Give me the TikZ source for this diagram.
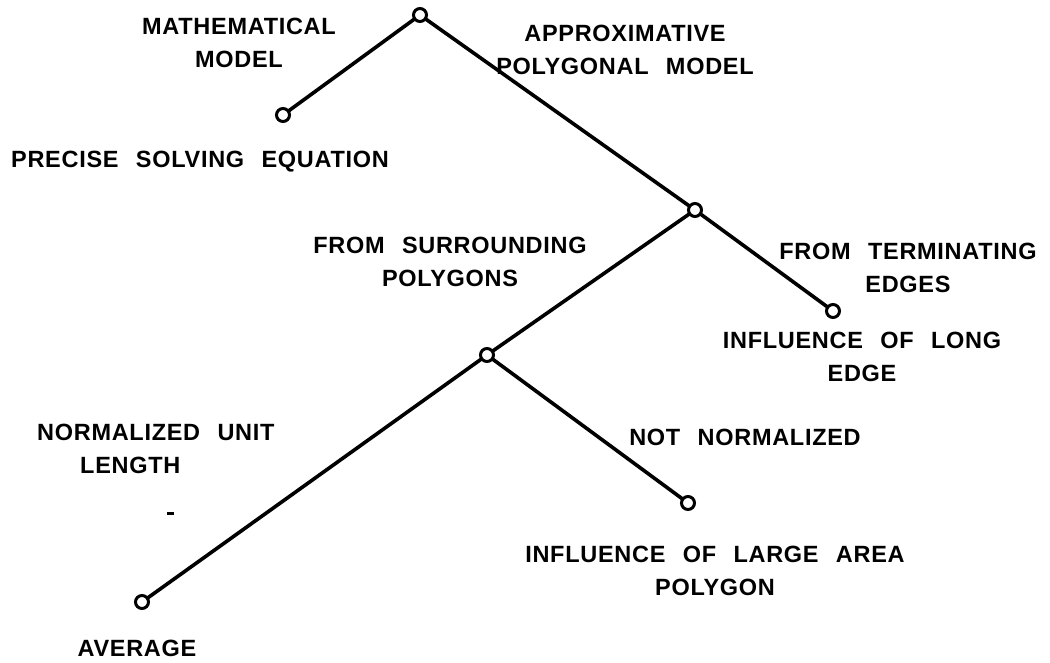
\documentclass[tikz,border=0pt]{standalone}
\usepackage{fontspec}
\setmainfont{Liberation Sans}[WordSpace=2.4, LetterSpace=3]
\begin{document}
\begin{tikzpicture}[x=1pt,y=-1pt,
  pt/.style={circle,draw,line width=3pt,fill=white,minimum size=13pt,inner sep=0pt},
  edge/.style={line width=3.6pt},
  lbl/.style={font=\fontsize{23.5}{33}\selectfont\bfseries,inner sep=0pt,align=center}]
\useasboundingbox (0,0) rectangle (1050,663);
\coordinate (r) at (420,15);
\coordinate (a) at (283,115);
\coordinate (b) at (695,210);
\coordinate (c) at (833,311);
\coordinate (m) at (487,355);
\coordinate (d) at (688,503);
\coordinate (e) at (142,602);
\draw[edge] (a) -- (r) -- (b) -- (c);
\draw[edge] (b) -- (m) -- (d);
\draw[edge] (m) -- (e);
\foreach \p in {r,a,b,c,m,d,e} \node[pt] (n\p) at (\p) {};
\fill (167,512) rectangle (174,515);
\node[lbl] (l1) at (239,43) {MATHEMATICAL\\MODEL};
\node[lbl] (l2) at (625,50) {APPROXIMATIVE\\POLYGONAL MODEL};
\node[lbl] (l3) at (200,162) {PRECISE SOLVING EQUATION};
\node[lbl] (l4) at (450,262) {FROM SURROUNDING\\POLYGONS};
\node[lbl] (l5) at (908,268) {FROM TERMINATING\\EDGES};
\node[lbl] (l6) at (862,357) {INFLUENCE OF LONG\\EDGE};
\node[lbl,align=left,anchor=west] (l7) at (37,449) {NORMALIZED UNIT\\\hspace*{43pt}LENGTH};
\node[lbl] (l8) at (745,437) {NOT NORMALIZED};
\node[lbl] (l9) at (715,571) {INFLUENCE OF LARGE AREA\\POLYGON};
\node[lbl] (l10) at (137,648) {AVERAGE};
\end{tikzpicture}
\end{document}
